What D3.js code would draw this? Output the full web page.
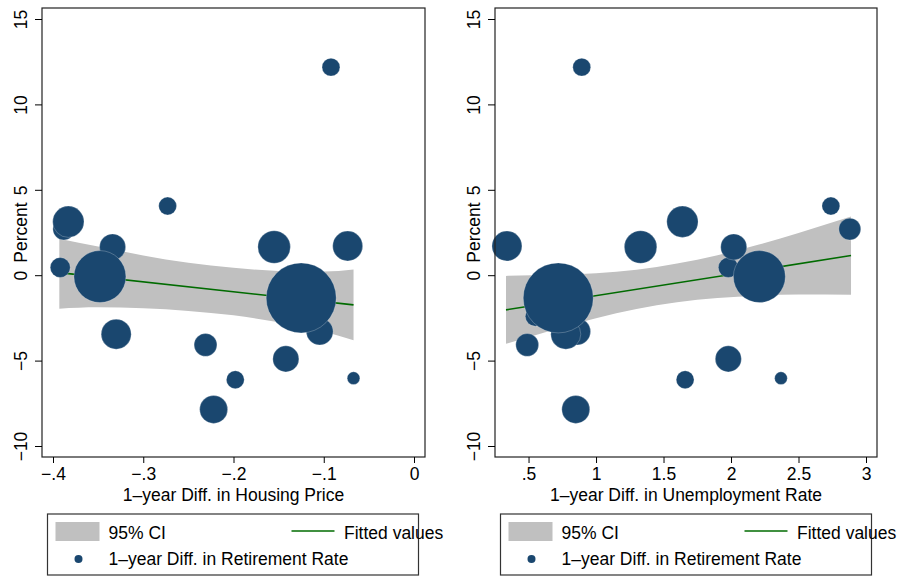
<!DOCTYPE html>
<html>
<head>
<meta charset="utf-8">
<script src="https://cdn.jsdelivr.net/npm/d3@7"></script>
<style>
  body { margin: 0; background: #fff; }
  svg text { font-family: "Liberation Sans", Arial, sans-serif; font-size: 17.5px; fill: #000; }
</style>
</head>
<body>
<script>
// one entry per region, same order in every array
const retireDiff  = [12.18, 3.13, 2.70, 4.05, 1.65, 0.45, -0.08, 1.65, 1.71, -1.33, -3.45, -4.08, -4.90, -6.12, -6.03, -7.86, -3.30, -2.40];
const housingDiff = [-0.092, -0.383, -0.388, -0.273, -0.334, -0.392, -0.348, -0.155, -0.0735, -0.125, -0.330, -0.231, -0.142, -0.198, -0.067, -0.222, -0.1045, -0.118];
const unempDiff   = [0.894, 1.64, 2.88, 2.74, 2.02, 1.98, 2.21, 1.33, 0.34, 0.72, 0.776, 0.49, 1.98, 1.66, 2.37, 0.85, 0.86, 0.55];
const weights     = [8, 24.5, 12, 8, 17, 10, 67.5, 26.5, 22.5, 122.5, 22.5, 13, 17, 8, 4, 19.5, 18, 10];

// fitted line + 95% CI
const fitHouseX = [-0.393, -0.067];
const fitHouseY = [0.15, -1.74];
const ciHouseX  = [-0.393, -0.35, -0.30, -0.25, -0.20, -0.15, -0.10, -0.067];
const ciHouseHi = [2.14, 1.68, 1.16, 0.73, 0.43, 0.25, 0.21, 0.33];
const ciHouseLo = [-1.96, -1.88, -1.94, -2.09, -2.35, -2.75, -3.29, -3.81];

const fitUnempX = [0.333, 2.889];
const fitUnempY = [-2.03, 1.15];
const ciUnempX  = [0.333, 0.7, 1.0, 1.3, 1.6, 1.9, 2.2, 2.5, 2.889];
const ciUnempHi = [-0.04, 0.02, 0.12, 0.32, 0.68, 1.17, 1.78, 2.47, 3.43];
const ciUnempLo = [-4.02, -3.16, -2.52, -1.98, -1.58, -1.33, -1.20, -1.13, -1.15];

const yTicks = [-10, -5, 0, 5, 10, 15];
const houseTicks = [-0.4, -0.3, -0.2, -0.1, 0];
const unempTicks = [0.5, 1, 1.5, 2, 2.5, 3];

const W = 899, H = 576;
const plotTop = 8, plotBottom = 457, pad = 11;
const navy = "#1a476f", band = "#c0c0c0", green = "#006b00";

const svg = d3.select("body").append("svg").attr("width", W).attr("height", H);

const y = d3.scaleLinear().domain([-10, 15]).range([plotBottom - pad, plotTop + pad]);
const r = d3.scaleSqrt().domain([0, d3.max(weights)]).range([0, 35]);

// stata style: no leading zero, real minus sign
const fmt = d => d === 0 ? "0" : (d < 0 ? "\u2212" : "") + String(Math.abs(d)).replace(/^0/, "");

function panel(o) {
  const g = svg.append("g");
  const x = d3.scaleLinear().domain(o.xDomain).range([o.left + pad, o.right - pad]);

  // CI band
  const ci = o.ciX.map((v, i) => ({ x: v, lo: o.ciLo[i], hi: o.ciHi[i] }));
  g.append("path")
    .datum(ci)
    .attr("d", d3.area().x(d => x(d.x)).y0(d => y(d.lo)).y1(d => y(d.hi)).curve(d3.curveMonotoneX))
    .attr("fill", band);

  // fitted line
  g.append("path")
    .datum(o.fitX.map((v, i) => [v, o.fitY[i]]))
    .attr("d", d3.line().x(d => x(d[0])).y(d => y(d[1])))
    .attr("fill", "none").attr("stroke", green).attr("stroke-width", 1.6);

  // bubbles, small ones first so the big ones sit on top
  const pts = retireDiff.map((v, i) => ({ x: o.xs[i], y: v, w: weights[i] }))
    .sort((a, b) => a.w - b.w);
  g.selectAll("circle.pt").data(pts).enter().append("circle")
    .attr("class", "pt")
    .attr("cx", d => x(d.x)).attr("cy", d => y(d.y)).attr("r", d => r(d.w))
    .attr("fill", navy).attr("stroke", "#fff").attr("stroke-opacity", 0.6).attr("stroke-width", 0.4);

  // frame
  g.append("rect")
    .attr("x", o.left).attr("y", plotTop)
    .attr("width", o.right - o.left).attr("height", plotBottom - plotTop)
    .attr("fill", "none").attr("stroke", "#222").attr("stroke-width", 1.2);

  // y axis
  const ya = g.append("g").attr("transform", `translate(${o.left},0)`)
    .call(d3.axisLeft(y).tickValues(yTicks).tickFormat(fmt).tickSize(7).tickSizeOuter(0));
  ya.select(".domain").remove();
  ya.selectAll("text")
    .attr("x", null).attr("dy", null).attr("text-anchor", "middle")
    .attr("transform", "translate(-15,0) rotate(-90)");
  g.append("text")
    .attr("transform", `translate(${o.left - 15},${(plotTop + plotBottom) / 2}) rotate(-90)`)
    .attr("text-anchor", "middle").text("Percent");

  // x axis
  const xa = g.append("g").attr("transform", `translate(0,${plotBottom})`)
    .call(d3.axisBottom(x).tickValues(o.xTicks).tickFormat(fmt).tickSize(6).tickSizeOuter(0));
  xa.select(".domain").remove();
  xa.selectAll("text").attr("y", 23).attr("dy", null);
  g.append("text")
    .attr("x", (o.left + o.right) / 2).attr("y", 500.5)
    .attr("text-anchor", "middle").text(o.title);

  // legend
  const lx = o.left + 5.5;
  const lg = g.append("g").attr("transform", `translate(${lx},514)`);
  lg.append("rect").attr("width", 371).attr("height", 61)
    .attr("fill", "#fff").attr("stroke", "#333").attr("stroke-width", 1.2);
  lg.append("rect").attr("x", 8).attr("y", 8).attr("width", 44).attr("height", 19).attr("fill", band);
  lg.append("text").attr("x", 61).attr("y", 24.5).text("95% CI");
  lg.append("line").attr("x1", 244).attr("x2", 287).attr("y1", 17).attr("y2", 17)
    .attr("stroke", green).attr("stroke-width", 1.6);
  lg.append("text").attr("x", 296.5).attr("y", 24.5).text("Fitted values");
  lg.append("circle").attr("cx", 31).attr("cy", 45).attr("r", 4).attr("fill", navy);
  lg.append("text").attr("x", 61).attr("y", 51).text("1\u2013year Diff. in Retirement Rate");
}

panel({
  left: 42, right: 425, xDomain: [-0.4, 0], xTicks: houseTicks, xs: housingDiff,
  fitX: fitHouseX, fitY: fitHouseY, ciX: ciHouseX, ciHi: ciHouseHi, ciLo: ciHouseLo,
  title: "1\u2013year Diff. in Housing Price"
});

panel({
  left: 495, right: 877, xDomain: [d3.min(unempDiff.concat(ciUnempX)), 3], xTicks: unempTicks, xs: unempDiff,
  fitX: fitUnempX, fitY: fitUnempY, ciX: ciUnempX, ciHi: ciUnempHi, ciLo: ciUnempLo,
  title: "1\u2013year Diff. in Unemployment Rate"
});
</script>
</body>
</html>
